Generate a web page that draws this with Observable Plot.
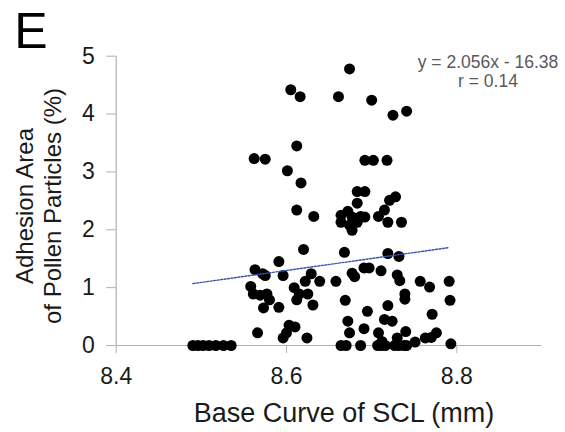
<!DOCTYPE html>
<html>
<head>
<meta charset="utf-8">
<script src="https://cdn.jsdelivr.net/npm/d3@7"></script>
<script src="https://cdn.jsdelivr.net/npm/@observablehq/plot@0.6"></script>
<style>
  html, body { margin: 0; padding: 0; background: #fff; }
  #chart { width: 565px; height: 432px; }
</style>
</head>
<body>
<div id="chart"></div>
<script>
// Base curve of SCL (mm)
const baseCurve = [
  8.490, 8.496, 8.502, 8.509, 8.517, 8.526, 8.535,
  8.562, 8.575, 8.601, 8.605, 8.616, 8.612, 8.617, 8.612, 8.632, 8.620,
  8.591, 8.563, 8.572, 8.575, 8.596, 8.629, 8.622, 8.639, 8.558, 8.609,
  8.561, 8.577, 8.569, 8.580, 8.612, 8.625, 8.615, 8.573, 8.591, 8.631,
  8.566, 8.603, 8.610, 8.600, 8.596, 8.624,
  8.658, 8.661, 8.674, 8.700, 8.725, 8.741, 8.692, 8.702, 8.718,
  8.683, 8.692, 8.683, 8.721, 8.728, 8.672, 8.664, 8.664, 8.677, 8.687,
  8.692, 8.683, 8.674, 8.677, 8.715, 8.708, 8.719, 8.735,
  8.668, 8.719, 8.732, 8.691, 8.697, 8.711, 8.677, 8.680, 8.730, 8.733,
  8.757, 8.768, 8.791, 8.739, 8.739, 8.669, 8.719, 8.792, 8.695, 8.771,
  8.672, 8.715, 8.724, 8.674, 8.691, 8.708, 8.740, 8.730, 8.763, 8.770,
  8.776, 8.751, 8.793, 8.712,
  8.664, 8.670, 8.687, 8.707, 8.711, 8.716, 8.727, 8.732, 8.738, 8.741
];
// Adhesion area of pollen particles (%)
const adhesion = [
  0, 0, 0, 0, 0, 0, 0,
  3.23, 3.22, 3.02, 4.42, 4.30, 3.45, 2.81, 2.34, 2.23, 1.66,
  1.45, 1.31, 1.24, 1.21, 1.21, 1.24, 1.11, 1.11, 1.02, 1.00,
  0.89, 0.89, 0.87, 0.79, 0.79, 0.89, 0.89, 0.65, 0.66, 0.70,
  0.22, 0.35, 0.32, 0.22, 0.13, 0.13,
  1.11, 4.30, 4.78, 4.24, 3.98, 4.05, 3.20, 3.20, 3.20,
  2.66, 2.66, 2.46, 2.51, 2.57, 2.32, 2.25, 2.13, 2.22, 2.23,
  2.22, 2.13, 2.08, 1.99, 2.34, 2.23, 2.13, 2.13,
  1.61, 1.59, 1.54, 1.34, 1.34, 1.29, 1.25, 1.19, 1.22, 1.12,
  1.11, 1.01, 1.11, 0.89, 0.80, 0.78, 0.69, 0.78, 0.59, 0.54,
  0.42, 0.45, 0.42, 0.22, 0.29, 0.22, 0.24, 0.13, 0.13, 0.14,
  0.22, 0.06, 0.03, 0.07,
  0, 0, 0, 0, 0, 0, 0, 0, 0, 0
];
// Regression line endpoints (as drawn)
const trendX = [8.49, 8.79];
const trendY = [1.07, 1.69];
const xTicks = [8.4, 8.6, 8.8];
const yTicks = [0, 1, 2, 3, 4, 5];
const xDomain = [8.4, 8.9];
const yDomain = [0, 5];
const panelLabel = "E";
const xTitle = "Base Curve of SCL (mm)";
const yTitle = ["Adhesion Area", "of Pollen Particles (%)"];
const equation = "y = 2.056x - 16.38";
const rText = "r = 0.14";

const points = baseCurve.map((x, i) => ({x, y: adhesion[i]}));
const trend = trendX.map((x, i) => ({x, y: trendY[i]}));

const FONT = "Arial, 'Liberation Sans', Helvetica, sans-serif";
const axisGray = "#b0b0b0";

const chart = Plot.plot({
  width: 565,
  height: 432,
  marginLeft: 115.7,
  marginRight: 23.5,
  marginTop: 55.7,
  marginBottom: 87,
  style: {fontFamily: FONT, background: "#fff", overflow: "visible"},
  x: {domain: xDomain},
  y: {domain: yDomain},
  marks: [
    Plot.ruleY([0], {x1: xDomain[0], x2: xDomain[1], stroke: axisGray, strokeWidth: 1.2}),
    Plot.ruleX([xDomain[0]], {y1: yDomain[0], y2: yDomain[1], stroke: axisGray, strokeWidth: 1.2}),
    Plot.axisX({ticks: xTicks, tickSize: 8, tickPadding: 14, fontSize: 23, stroke: axisGray, fill: "#1a1a1a", label: null, tickFormat: d => d.toFixed(1)}),
    Plot.axisY({ticks: yTicks, tickSize: 9.5, tickPadding: 12, fontSize: 23, stroke: axisGray, fill: "#1a1a1a", label: null, tickFormat: d => String(d)}),
    Plot.dot(points, {x: "x", y: "y", r: 5.5, fill: "#000", stroke: null}),
    Plot.line(trend, {x: "x", y: "y", stroke: "#3a55b0", strokeWidth: 1.4, strokeDasharray: "2,1.5"})
  ]
});
document.getElementById("chart").appendChild(chart);

const svg = d3.select(chart);
svg.append("text").attr("x", 31).attr("y", 48).attr("font-size", 50)
  .attr("font-family", FONT).attr("fill", "#000").text(panelLabel);
svg.append("text").attr("x", 344).attr("y", 422).attr("font-size", 27)
  .attr("text-anchor", "middle").attr("font-family", FONT).attr("fill", "#1a1a1a").text(xTitle);
svg.append("text").attr("transform", "translate(33,206) rotate(-90)").attr("font-size", 24)
  .attr("text-anchor", "middle").attr("font-family", FONT).attr("fill", "#1a1a1a").text(yTitle[0]);
svg.append("text").attr("transform", "translate(61,206) rotate(-90)").attr("font-size", 24)
  .attr("text-anchor", "middle").attr("font-family", FONT).attr("fill", "#1a1a1a").text(yTitle[1]);
svg.append("text").attr("x", 488).attr("y", 67.5).attr("font-size", 17.5)
  .attr("text-anchor", "middle").attr("font-family", FONT).attr("fill", "#595959").text(equation);
svg.append("text").attr("x", 488).attr("y", 87).attr("font-size", 17.5)
  .attr("text-anchor", "middle").attr("font-family", FONT).attr("fill", "#595959").text(rText);
</script>
</body>
</html>
